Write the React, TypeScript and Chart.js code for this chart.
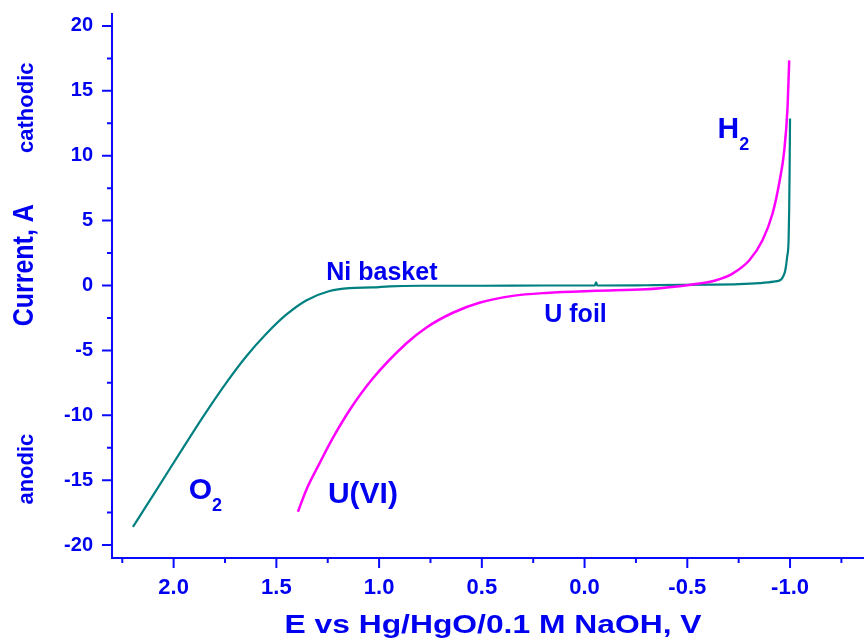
import { useEffect, useRef } from "react";
import { Chart, registerables } from "chart.js";

Chart.register(...registerables);

// ---- Data ----
// Ni basket (teal) : potential E (V) and current I (A)
const niBasketE = [2.198, 2.084, 1.971, 1.857, 1.744, 1.646, 1.549, 1.452, 1.355, 1.241, 1.144, 1.031, 0.95, 0.8, 0.5, 0.2, 0.0, -0.05, -0.056, -0.062, -0.3, -0.6, -0.75, -0.85, -0.92, -0.956, -0.968, -0.977, -0.986, -0.993, -0.996, -0.998, -1.0];
const niBasketI = [-18.6, -15.77, -12.94, -10.12, -7.5, -5.45, -3.72, -2.25, -1.15, -0.42, -0.2, -0.15, -0.06, -0.02, -0.02, 0.0, 0.0, 0.0, 0.25, 0.0, 0.02, 0.06, 0.1, 0.18, 0.3, 0.46, 0.75, 1.18, 2.2, 3.49, 6.0, 9.0, 12.87];

// U foil (magenta)
const uFoilE = [1.395, 1.355, 1.29, 1.225, 1.144, 1.031, 0.868, 0.771, 0.641, 0.512, 0.35, 0.187, -0.056, -0.299, -0.461, -0.558, -0.64, -0.72, -0.802, -0.866, -0.915, -0.947, -0.972, -0.988, -0.996];
const uFoilI = [-17.44, -15.77, -13.71, -11.75, -9.61, -7.17, -4.47, -3.25, -2.1, -1.33, -0.8, -0.57, -0.41, -0.29, -0.05, 0.15, 0.41, 0.92, 1.95, 3.49, 5.55, 7.86, 10.42, 13.76, 17.35];

// Axis ranges / tick steps
const xMin = -1.36;
const xMax = 2.3;
const xStep = 0.5;
const yMin = -21;
const yMax = 21;
const yStep = 5;

// Text labels
const xTitle = "E vs Hg/HgO/0.1 M NaOH, V";
const yTitle = "Current, A";
const yUpperNote = "cathodic";
const yLowerNote = "anodic";
const yTitleAt = 1.56;
const yUpperNoteAt = 13.7;
const yLowerNoteAt = -14.15;

// In-plot labels at data coordinates (left / baseline)
const labelTexts = ["Ni basket", "U foil", "H", "O", "U(VI)"];
const labelSubs = ["", "", "2", "2", ""];
const labelE = [1.257, 0.196, -0.647, 1.927, 1.249];
const labelI = [0.46, -2.8, 11.33, -16.49, -16.73];
const labelSizes = [25, 25, 30, 30, 30];

const BLUE = "#0000f0";
const AXIS_BLUE = "#0a0aff";
const TEAL = "#008080";
const MAGENTA = "#ff00ff";
const FONT = "'Liberation Sans', Arial, Helvetica, sans-serif";

const decorPlugin = {
  id: "decor",
  afterDraw(chart: any) {
    const { ctx, chartArea: ca, scales } = chart;
    const xs = scales.x;
    const ys = scales.y;
    ctx.save();

    // axis lines
    ctx.strokeStyle = AXIS_BLUE;
    ctx.lineWidth = 2;
    ctx.beginPath();
    ctx.moveTo(ca.left, ca.top);
    ctx.lineTo(ca.left, ca.bottom);
    ctx.lineTo(ca.right, ca.bottom);
    ctx.stroke();

    // ticks (major + minor), outward
    ctx.beginPath();
    const xTickVals: number[] = xs.ticks.map((t: any) => t.value);
    const xMinor: number[] = [];
    xTickVals.forEach((v) => {
      [v - xStep / 2, v + xStep / 2].forEach((m) => {
        if (m >= xMin && m <= xMax && !xMinor.some((q) => Math.abs(q - m) < 1e-9)) xMinor.push(m);
      });
    });
    xTickVals.forEach((v) => {
      const p = xs.getPixelForValue(v);
      ctx.moveTo(p, ca.bottom);
      ctx.lineTo(p, ca.bottom + 10);
    });
    xMinor.forEach((v) => {
      const p = xs.getPixelForValue(v);
      ctx.moveTo(p, ca.bottom);
      ctx.lineTo(p, ca.bottom + 5);
    });
    const yTickVals: number[] = ys.ticks.map((t: any) => t.value);
    const yMinor: number[] = [];
    yTickVals.forEach((v) => {
      [v - yStep / 2, v + yStep / 2].forEach((m) => {
        if (m >= yMin && m <= yMax && !yMinor.some((q) => Math.abs(q - m) < 1e-9)) yMinor.push(m);
      });
    });
    yTickVals.forEach((v) => {
      const p = ys.getPixelForValue(v);
      ctx.moveTo(ca.left - 10, p);
      ctx.lineTo(ca.left, p);
    });
    yMinor.forEach((v) => {
      const p = ys.getPixelForValue(v);
      ctx.moveTo(ca.left - 5, p);
      ctx.lineTo(ca.left, p);
    });
    ctx.stroke();

    ctx.fillStyle = BLUE;

    // x-axis title (slightly wide lettering, as in the reference)
    ctx.save();
    ctx.font = `bold 26.5px ${FONT}`;
    ctx.textAlign = "center";
    ctx.textBaseline = "alphabetic";
    ctx.translate((ca.left + ca.right) / 2 + 5, 633.3);
    ctx.scale(1.2, 1);
    ctx.fillText(xTitle, 0, 0);
    ctx.restore();

    // rotated y-side texts
    const rot = (text: string, size: number, yVal: number, baseX: number, thick: number) => {
      ctx.save();
      ctx.font = `bold ${size}px ${FONT}`;
      ctx.textAlign = "center";
      ctx.textBaseline = "alphabetic";
      ctx.translate(baseX, ys.getPixelForValue(yVal));
      ctx.rotate(-Math.PI / 2);
      ctx.scale(1, thick);
      ctx.fillText(text, 0, 0);
      ctx.restore();
    };
    rot(yTitle, 25, yTitleAt, ca.left - 79, 1.2);
    rot(yUpperNote, 22, yUpperNoteAt, ca.left - 79, 1);
    rot(yLowerNote, 22, yLowerNoteAt, ca.left - 79, 1);

    // in-plot labels
    labelTexts.forEach((t, i) => {
      const px = xs.getPixelForValue(labelE[i]);
      const py = ys.getPixelForValue(labelI[i]);
      const size = labelSizes[i];
      ctx.font = `bold ${size}px ${FONT}`;
      ctx.textAlign = "left";
      ctx.textBaseline = "alphabetic";
      ctx.fillText(t, px, py);
      if (labelSubs[i]) {
        const w = ctx.measureText(t).width;
        ctx.font = `bold ${Math.round(size * 0.6)}px ${FONT}`;
        ctx.fillText(labelSubs[i], px + w, py + 12);
      }
    });

    ctx.restore();
  },
};

export default function App() {
  const canvasRef = useRef<HTMLCanvasElement | null>(null);

  useEffect(() => {
    const canvas = canvasRef.current;
    if (!canvas) return;
    const chart = new Chart(canvas, {
      type: "scatter",
      data: {
        datasets: [
          {
            label: "U foil",
            data: uFoilE.map((e, i) => ({ x: e, y: uFoilI[i] })),
            showLine: true,
            borderColor: MAGENTA,
            backgroundColor: MAGENTA,
            borderWidth: 2.5,
            pointRadius: 0,
            cubicInterpolationMode: "monotone",
          },
          {
            label: "Ni basket",
            data: niBasketE.map((e, i) => ({ x: e, y: niBasketI[i] })),
            showLine: true,
            borderColor: TEAL,
            backgroundColor: TEAL,
            borderWidth: 2.2,
            pointRadius: 0,
            cubicInterpolationMode: "monotone",
          },
        ],
      },
      options: {
        animation: false,
        responsive: true,
        maintainAspectRatio: false,
        layout: { padding: { top: 13, right: 0, bottom: 0, left: 0 } },
        plugins: {
          legend: { display: false },
          tooltip: { enabled: false },
        },
        scales: {
          x: {
            type: "linear",
            reverse: true,
            min: xMin,
            max: xMax,
            grid: { display: false, drawTicks: false },
            border: { display: false },
            ticks: {
              stepSize: xStep,
              includeBounds: false,
              autoSkip: false,
              maxRotation: 0,
              padding: 17,
              color: BLUE,
              font: { family: FONT, size: 22, weight: "bold" },
              callback: (v: any) => Number(v).toFixed(1),
            },
            afterFit: (s: any) => {
              s.height = 83;
              s.paddingLeft = 0;
              s.paddingRight = 0;
            },
          },
          y: {
            type: "linear",
            min: yMin,
            max: yMax,
            grid: { display: false, drawTicks: false },
            border: { display: false },
            ticks: {
              stepSize: yStep,
              includeBounds: false,
              padding: 19,
              color: BLUE,
              font: { family: FONT, size: 20, weight: "bold" },
              callback: (v: any) => String(Math.round(Number(v))),
            },
            afterFit: (s: any) => {
              s.width = 112;
              s.paddingTop = 0;
              s.paddingBottom = 0;
            },
          },
        },
      },
      plugins: [decorPlugin],
    } as any);
    return () => chart.destroy();
  }, []);

  return (
    <div style={{ position: "absolute", left: 0, top: 0, width: 864, height: 641, background: "#fff" }}>
      <canvas ref={canvasRef} />
    </div>
  );
}
